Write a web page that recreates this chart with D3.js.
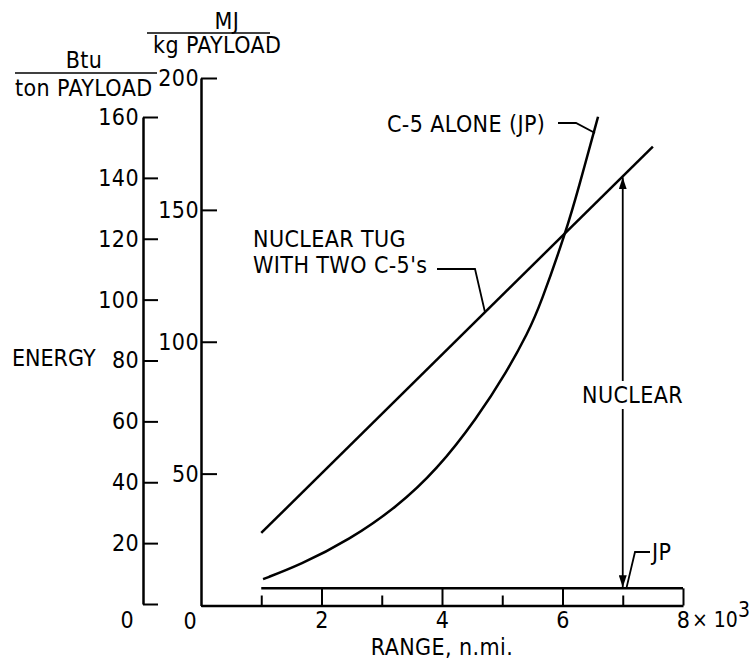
<!DOCTYPE html>
<html><head><meta charset="utf-8">
<script src="https://cdn.jsdelivr.net/npm/d3@7"></script>
<style>
body{margin:0;background:#fff;}
svg text{font-family:"Liberation Sans Narrow","Arial Narrow","DejaVu Sans Condensed",sans-serif;font-size:23px;fill:#000;letter-spacing:0.4px;}
</style></head><body>
<svg id="c" width="755" height="662"></svg>
<script>
// ---- data (range in thousands of n.mi., energy in MJ/kg payload) ----
const rangeMajor = [0, 2, 4, 6, 8];
const rangeMinor = [1, 3, 5, 7];
const mjTicks = [0, 50, 100, 150, 200];
const btuTicks = [0, 20, 40, 60, 80, 100, 120, 140, 160];
const tugRange = [1.0, 7.5];
const tugEnergy = [27.5, 174];
const c5Range = [1.03, 1.64, 2.47, 3.25, 3.92, 4.58, 5.08, 5.43, 5.63, 6.07, 6.26, 6.59];
const c5Energy = [10.0, 15.3, 25.0, 37.3, 51.6, 71.0, 88.8, 103.6, 113.8, 142.6, 157.7, 185.3];
const jpRange = [1, 8];
const jpEnergy = [6.5, 6.5];
const arrowAt = 7;

const svg = d3.select("#c");
const x = d3.scaleLinear().domain([0, 8]).range([201, 683]);
const y = d3.scaleLinear().domain([0, 200]).range([605.5, 78]);
const yB = d3.scaleLinear().domain([0, 160]).range([604, 117]);
const innerX = 201, outerX = 143;

// defs: arrowheads
const defs = svg.append("defs");
defs.append("marker").attr("id", "ah").attr("viewBox", "0 0 12 8")
  .attr("markerUnits", "userSpaceOnUse").attr("markerWidth", 12).attr("markerHeight", 8)
  .attr("refX", 12).attr("refY", 4).attr("orient", "auto-start-reverse")
  .append("path").attr("d", "M0,0 L12,4 L0,8 Z").attr("fill", "#000");

function styleAxis(g, w) {
  g.select(".domain").attr("stroke", "#000").attr("stroke-width", w);
  g.selectAll(".tick line").attr("stroke", "#000").attr("stroke-width", 2);
}

// outer (Btu/ton) axis
const go = svg.append("g").attr("transform", `translate(${outerX},0)`)
  .call(d3.axisRight(yB).tickValues(btuTicks).tickSize(15).tickSizeOuter(0).tickPadding(0));
styleAxis(go, 2.5);
go.selectAll(".tick text").attr("text-anchor", "end").attr("x", -4)
  .filter(d => d === 0).attr("x", -9).attr("y", 16);

// inner (MJ/kg) axis
const gi = svg.append("g").attr("transform", `translate(${innerX},0)`)
  .call(d3.axisRight(y).tickValues(mjTicks).tickSize(16).tickSizeOuter(0).tickPadding(0));
styleAxis(gi, 2.5);
gi.selectAll(".tick text").attr("text-anchor", "end").attr("x", -2)
  .filter(d => d === 0).attr("x", -4).attr("y", 16);

// x axis (ticks rise from axis line)
const gx = svg.append("g").attr("transform", `translate(0,${y(0)})`)
  .call(d3.axisBottom(x).tickValues(rangeMajor.filter(d => d > 0))
    .tickSizeInner(-(y(0) - y(jpEnergy[0]))).tickSizeOuter(0).tickPadding(0));
styleAxis(gx, 2.5);
gx.selectAll(".tick text").attr("y", 15).attr("dy", "0.32em");
const gm = svg.append("g").attr("transform", `translate(0,${y(0)})`)
  .call(d3.axisBottom(x).tickValues(rangeMinor).tickSizeInner(-10).tickSizeOuter(0).tickFormat(""));
gm.select(".domain").remove();
gm.selectAll(".tick line").attr("stroke", "#000").attr("stroke-width", 2);

// "× 10^3"
const xm = svg.append("text").attr("x", x(8) + 9).attr("y", y(0) + 15).attr("dy", "0.32em")
  .style("font-size", "21px").style("letter-spacing", "0px");
xm.append("tspan").text("× 10");
xm.append("tspan").attr("dy", "-0.5em").text("3");

// axis titles
svg.append("text").attr("x", x(4)).attr("y", 655).attr("text-anchor", "middle").text("RANGE, n.mi.");
svg.append("text").attr("x", 12).attr("y", 366).style("letter-spacing", "0px").text("ENERGY");
svg.append("text").attr("x", 84).attr("y", 68).attr("text-anchor", "middle").text("Btu");
svg.append("line").attr("x1", 15).attr("x2", 157).attr("y1", 73).attr("y2", 73).attr("stroke", "#000").attr("stroke-width", 1.5);
svg.append("text").attr("x", 15).attr("y", 96).text("ton PAYLOAD");
svg.append("text").attr("x", 227).attr("y", 29).attr("text-anchor", "middle").text("MJ");
svg.append("line").attr("x1", 147).attr("x2", 270).attr("y1", 33).attr("y2", 33).attr("stroke", "#000").attr("stroke-width", 1.5);
svg.append("text").attr("x", 153).attr("y", 53).text("kg PAYLOAD");

// curves
const c5 = c5Range.map((r, i) => [r, c5Energy[i]]);
const tug = tugRange.map((r, i) => [r, tugEnergy[i]]);
const jp = jpRange.map((r, i) => [r, jpEnergy[i]]);
const straight = d3.line().x(d => x(d[0])).y(d => y(d[1]));
const smooth = d3.line().x(d => x(d[0])).y(d => y(d[1])).curve(d3.curveBasis);
svg.append("path").attr("d", smooth(c5)).attr("fill", "none").attr("stroke", "#000").attr("stroke-width", 2.5);
svg.append("path").attr("d", straight(tug)).attr("fill", "none").attr("stroke", "#000").attr("stroke-width", 2.5);
svg.append("path").attr("d", straight(jp)).attr("fill", "none").attr("stroke", "#000").attr("stroke-width", 2.5);

// nuclear arrow
const tugAt = d3.scaleLinear().domain(tugRange).range(tugEnergy);
svg.append("line").attr("x1", x(arrowAt)).attr("x2", x(arrowAt))
  .attr("y1", y(tugAt(arrowAt)) + 1).attr("y2", y(jpEnergy[0]) - 1)
  .attr("stroke", "#000").attr("stroke-width", 1.8)
  .attr("marker-start", "url(#ah)").attr("marker-end", "url(#ah)");
svg.append("rect").attr("x", x(arrowAt) - 4).attr("y", 381).attr("width", 8).attr("height", 28).attr("fill", "#fff");
svg.append("text").attr("x", 582).attr("y", 403).text("NUCLEAR");

// annotations with leaders
const leader = pts => svg.append("path").attr("d", d3.line()(pts)).attr("fill", "none").attr("stroke", "#000").attr("stroke-width", 1.8);
svg.append("text").attr("x", 387).attr("y", 132).text("C-5 ALONE (JP)");
leader([[558, 123], [576, 123], [595, 133]]);
svg.append("text").attr("x", 253).attr("y", 247).text("NUCLEAR TUG");
svg.append("text").attr("x", 253).attr("y", 273).text("WITH TWO C-5's");
const tr = x.invert(485);
leader([[437, 269], [475, 269], [485, y(tugAt(tr))]]);
svg.append("text").attr("x", 652).attr("y", 560).text("JP");
leader([[650, 552], [635, 552], [x(7.06), y(jpEnergy[0])]]);
</script>
</body></html>
